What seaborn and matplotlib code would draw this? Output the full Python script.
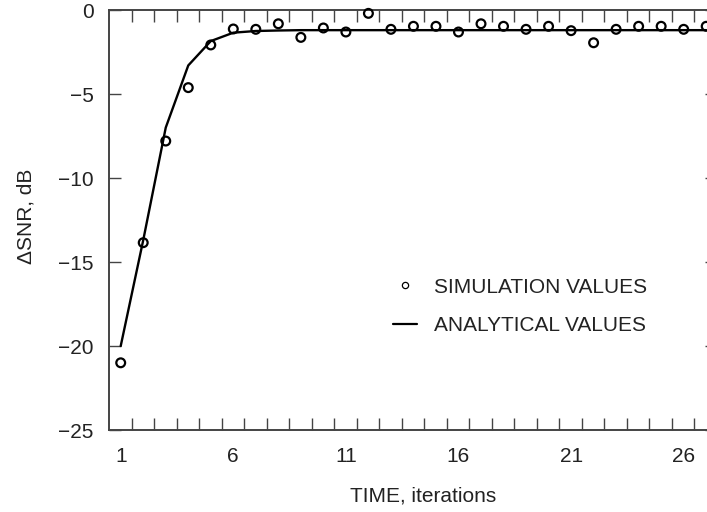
import numpy as np
import pandas as pd
import matplotlib
matplotlib.use("Agg")
import matplotlib.pyplot as plt
from matplotlib.lines import Line2D
import seaborn as sns

# ---- data ----
iterations = list(range(1, 28))
simulation_values = [-21.0, -13.85, -7.8, -4.62, -2.08, -1.13, -1.15, -0.82, -1.63,
                     -1.07, -1.31, -0.2, -1.15, -0.97, -0.97, -1.31, -0.82, -0.97,
                     -1.15, -0.97, -1.23, -1.95, -1.15, -0.97, -0.97, -1.15, -0.97]
analytical_values = [-20.0, -13.7, -7.0, -3.3, -1.85, -1.35, -1.25, -1.22, -1.2,
                     -1.2, -1.2, -1.2, -1.2, -1.2, -1.2, -1.2, -1.2, -1.2,
                     -1.2, -1.2, -1.2, -1.2, -1.2, -1.2, -1.2, -1.2, -1.2]
x_tick_labels = [1, 6, 11, 16, 21, 26]
y_ticks = [-25, -20, -15, -10, -5, 0]

df = pd.DataFrame({"iter": iterations, "sim": simulation_values, "ana": analytical_values})

sns.set_theme(style="white")
plt.rcParams["font.family"] = ["Liberation Sans", "DejaVu Sans"]
FS = 15
TXT = "#222222"
SP = "#444444"

fig = plt.figure(figsize=(7.07, 5.12), dpi=100)
ax = fig.add_axes([109 / 707, 82 / 512, (717 - 109) / 707, 420 / 512])

sns.lineplot(data=df, x="iter", y="ana", ax=ax, color="black", linewidth=1.7,
             clip_on=False, zorder=3)
sns.scatterplot(data=df, x="iter", y="sim", ax=ax, marker="o", s=40,
                facecolors="none", edgecolor="black", linewidth=1.6,
                clip_on=False, zorder=4)

ax.set_xlim(0.48, 27.48)
ax.set_ylim(-25, 0)

ax.set_xticks(x_tick_labels)
ax.set_xticklabels([str(v) for v in x_tick_labels])
ax.set_xticks(np.arange(1.48, 27.0, 1.0), minor=True)
ax.set_yticks(y_ticks)
ax.set_yticklabels([str(v).replace("-", "\u2212") for v in y_ticks])

ax.tick_params(axis="x", which="major", length=0, pad=12, labelsize=FS, labelcolor=TXT)
ax.tick_params(axis="x", which="minor", direction="in", length=8.6, width=1.0,
               color=SP, top=True, bottom=True)
ax.tick_params(axis="y", which="major", direction="in", length=8.6, width=1.0,
               color=SP, left=True, right=True, pad=11, labelsize=FS, labelcolor=TXT)

for s in ax.spines.values():
    s.set_visible(True)
    s.set_color(SP)
    s.set_linewidth(1.4)

ax.set_xlabel("TIME, iterations", fontsize=FS, color=TXT)
ax.set_ylabel("\u0394SNR, dB", fontsize=FS, color=TXT)
ax.xaxis.set_label_coords((423 - 109) / 608, (430 - 487) / 420)
ax.yaxis.set_label_coords((36 - 109) / 608, (430 - 216) / 420)

handles = [
    Line2D([], [], marker="o", markersize=4.5, markerfacecolor="none",
           markeredgecolor="black", markeredgewidth=0.9, linestyle="none"),
    Line2D([], [], color="black", linewidth=1.6),
]
leg = ax.legend(handles, ["SIMULATION VALUES", "ANALYTICAL VALUES"],
                loc="center left", bbox_to_anchor=(393 / 707, 1 - 306.4 / 512),
                bbox_transform=fig.transFigure, frameon=False, fontsize=FS,
                handlelength=1.15, handletextpad=0.8, labelspacing=0.95,
                borderpad=0, borderaxespad=0)
for t in leg.get_texts():
    t.set_color(TXT)

fig.savefig("out.png", dpi=100, facecolor="white")
